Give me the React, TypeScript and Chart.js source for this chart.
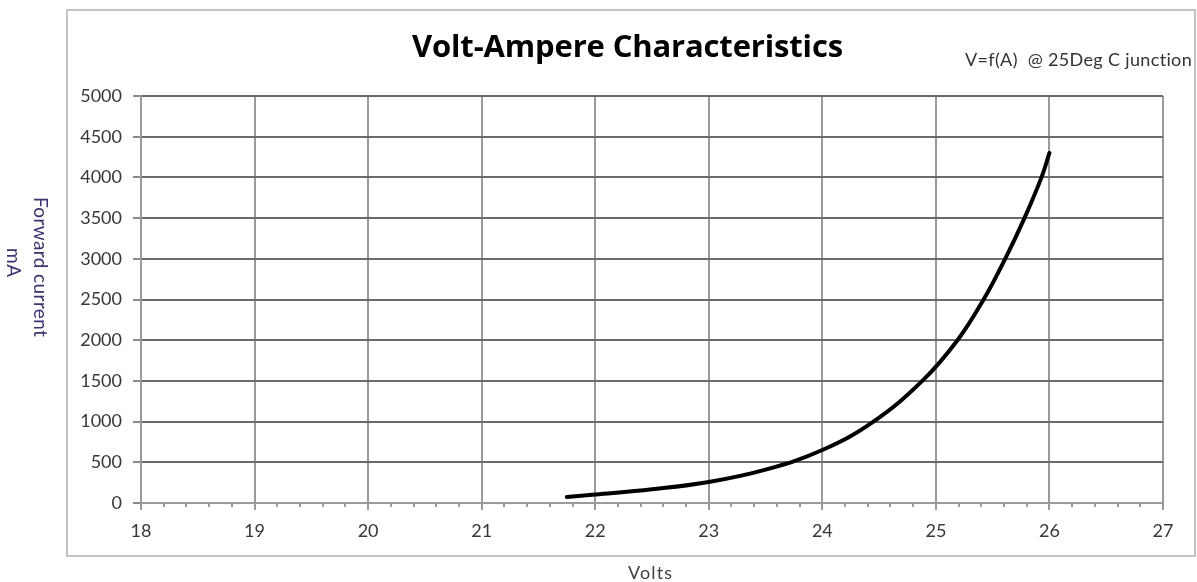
import React, { useEffect, useRef } from 'react';
import { Chart, registerables } from 'chart.js';

Chart.register(...registerables);

const volts = [21.75, 22.0, 22.5, 23.0, 23.5, 24.0, 24.45, 24.88, 25.19, 25.42, 25.61, 25.78, 25.93, 26.0];
const currentMA = [75, 104, 168, 258, 410, 651, 1000, 1500, 2000, 2500, 3000, 3500, 4000, 4300];

const xMin = 18;
const xMax = 27;
const yMin = 0;
const yMax = 5000;
const yStep = 500;
const xMinorStep = 0.2;

const titleText = 'Volt-Ampere Characteristics';
const noteText = 'V=f(A)  @ 25Deg C junction';
const yLabelLines = ['Forward current', 'mA'];
const xLabelText = 'Volts';

// draws text left-aligned starting at x, stretched with letter spacing to a target width
function fitText(ctx: any, text: string, x: number, y: number, font: string, target: number) {
  ctx.font = font;
  ctx.letterSpacing = '0px';
  const w = ctx.measureText(text).width;
  const sp = text.length > 1 ? (target - w) / (text.length - 1) : 0;
  ctx.letterSpacing = sp.toFixed(2) + 'px';
  ctx.textAlign = 'left';
  ctx.fillText(text, x, y);
  ctx.letterSpacing = '0px';
}

const decorPlugin = {
  id: 'decor',
  beforeDraw(chart: any) {
    const ctx = chart.ctx;
    ctx.save();
    ctx.fillStyle = '#ffffff';
    ctx.fillRect(0, 0, chart.width, chart.height);
    ctx.strokeStyle = '#c4c4c4';
    ctx.lineWidth = 2;
    ctx.strokeRect(67, 10, 1128, 546);
    ctx.restore();
  },
  afterDraw(chart: any) {
    const ctx = chart.ctx;
    const xs = chart.scales.x;
    const area = chart.chartArea;
    ctx.save();
    // minor ticks
    ctx.strokeStyle = '#9a9a9a';
    ctx.lineWidth = 2;
    const n = Math.round((xMax - xMin) / xMinorStep);
    for (let i = 0; i <= n; i++) {
      if (i % 5 === 0) continue;
      const v = xMin + i * xMinorStep;
      const px = Math.round(xs.getPixelForValue(v));
      ctx.beginPath();
      ctx.moveTo(px, area.bottom);
      ctx.lineTo(px, area.bottom + 4);
      ctx.stroke();
    }
    ctx.textBaseline = 'middle';
    // title
    ctx.fillStyle = '#000000';
    fitText(ctx, titleText, 412, 48, 'bold 31px "Open Sans"', 431);
    // note
    ctx.fillStyle = '#333333';
    fitText(ctx, noteText, 965, 60, '18px Lato', 227);
    // x label
    ctx.fillStyle = '#404040';
    fitText(ctx, xLabelText, 628, 573, '18px Lato', 44);
    // y label
    ctx.fillStyle = '#3f3170';
    ctx.save();
    ctx.translate(40, 197);
    ctx.rotate(Math.PI / 2);
    fitText(ctx, yLabelLines[0], 0, 0, '19px Lato', 140);
    ctx.restore();
    ctx.save();
    ctx.translate(13, 248);
    ctx.rotate(Math.PI / 2);
    fitText(ctx, yLabelLines[1], 0, 0, '19px Lato', 29);
    ctx.restore();
    ctx.restore();
  },
};

export default function App() {
  const ref = useRef<HTMLCanvasElement | null>(null);
  useEffect(() => {
    document.body.style.margin = '0';
    const canvas = ref.current;
    if (!canvas) return;
    const chart = new Chart(canvas, {
      type: 'scatter',
      data: {
        datasets: [
          {
            data: volts.map((v, i) => ({ x: v, y: currentMA[i] })),
            showLine: true,
            borderColor: '#000000',
            backgroundColor: '#000000',
            borderWidth: 4,
            pointRadius: 0,
            tension: 0.4,
            borderCapStyle: 'round',
            borderJoinStyle: 'round',
          } as any,
        ],
      },
      options: {
        responsive: false,
        animation: false,
        devicePixelRatio: 1,
        layout: { padding: { left: 0, top: 96, right: 34, bottom: 0 } },
        plugins: {
          legend: { display: false },
          tooltip: { enabled: false },
          title: { display: false },
        },
        scales: {
          x: {
            type: 'linear',
            min: xMin,
            max: xMax,
            afterFit: (s: any) => {
              s.height = 79;
            },
            ticks: {
              stepSize: 1,
              padding: 10,
              color: '#383838',
              font: { family: 'Lato', size: 18 },
              maxRotation: 0,
              callback: (v: any) => String(v),
            },
            grid: {
              color: '#9a9a9a',
              lineWidth: 2,
              tickLength: 7,
              tickColor: '#9a9a9a',
            },
            border: { display: true, color: '#9a9a9a', width: 2 },
          },
          y: {
            type: 'linear',
            min: yMin,
            max: yMax,
            afterFit: (s: any) => {
              s.width = 141;
            },
            ticks: {
              stepSize: yStep,
              padding: 11,
              color: '#383838',
              font: { family: 'Lato', size: 18 },
              callback: (v: any) => String(v),
            },
            grid: {
              color: '#6a6a6a',
              lineWidth: 2,
              tickLength: 8,
              tickColor: '#8a8a8a',
            },
            border: { display: true, color: '#9a9a9a', width: 2 },
          },
        },
      },
      plugins: [decorPlugin],
    } as any);
    return () => chart.destroy();
  }, []);
  return (
    <div style={{ width: 1197, height: 582 }}>
      <canvas ref={ref} width={1197} height={582} style={{ display: 'block' }} />
    </div>
  );
}
